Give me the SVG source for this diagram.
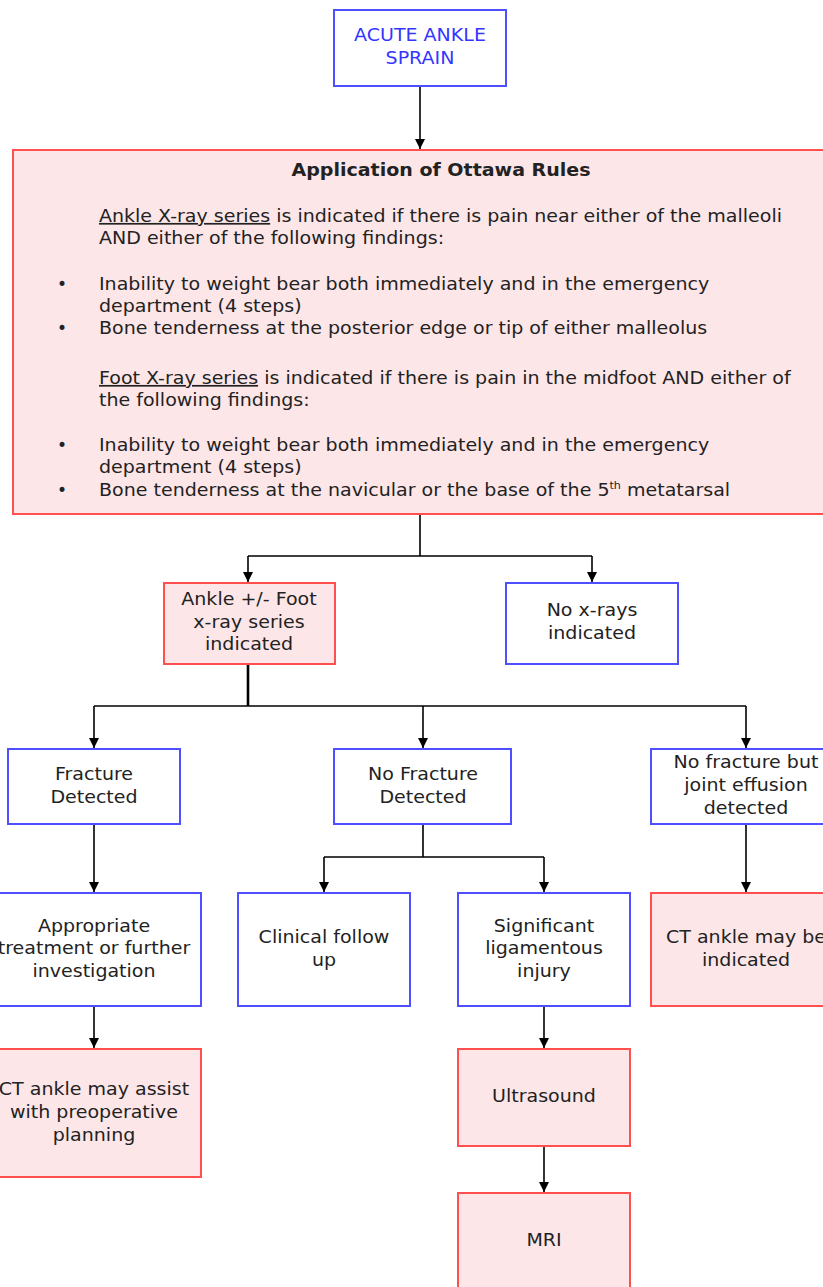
<svg xmlns="http://www.w3.org/2000/svg" width="823" height="1287" viewBox="0 0 823 1287">
<defs>
<marker id="ah" markerWidth="12" markerHeight="12" refX="10" refY="5" orient="auto" markerUnits="userSpaceOnUse">
<path d="M0,0 L10,5 L0,10 z" fill="#000"/>
</marker>
<style>
.blue{fill:#fff;stroke:#4f4fff;stroke-width:2}
.red{fill:#fde6e8;stroke:#ff4f4f;stroke-width:2}
text{font-family:"DejaVu Sans","Verdana",sans-serif;font-size:17px;fill:#222}
.c{text-anchor:middle}
.bt{fill:#3535ff}
.b{font-weight:bold}
.con{stroke:#000;stroke-width:1.6;fill:none}
.arr{stroke:#000;stroke-width:1.6;fill:none;marker-end:url(#ah)}
</style>
</defs>
<rect width="823" height="1287" fill="#fff"/>

<g id="connectors">
<path class="arr" d="M420,86 V149"/>
<path class="con" d="M420,514 V556 M248,556 H592"/>
<path class="arr" d="M248,556 V582"/>
<path class="arr" d="M592,556 V582"/>
<path class="con" d="M248,664 V706" style="stroke-width:2.6"/>
<path class="con" d="M94,706 H746"/>
<path class="arr" d="M94,706 V748"/>
<path class="arr" d="M423,706 V748"/>
<path class="arr" d="M746,706 V748"/>
<path class="arr" d="M94,824 V892"/>
<path class="con" d="M423,824 V857 M324,857 H544"/>
<path class="arr" d="M324,857 V892"/>
<path class="arr" d="M544,857 V892"/>
<path class="arr" d="M746,824 V892"/>
<path class="arr" d="M94,1006 V1048"/>
<path class="arr" d="M544,1006 V1048"/>
<path class="arr" d="M544,1146 V1192"/>
</g>

<g id="acute">
<rect class="blue" x="334" y="10" width="172" height="76"/>
<g transform="matrix(1.12 0 0 1 -50.4 0)">
<text class="c bt" x="420" y="41">ACUTE ANKLE</text>
<text class="c bt" x="420" y="64">SPRAIN</text>
</g>
</g>

<g id="ottawa">
<rect class="red" x="13" y="150" width="820" height="364"/>
<g transform="matrix(1.12 0 0 1 -52.92 0)">
<text class="c b" x="441" y="176">Application of Ottawa Rules</text>
</g>
<g transform="matrix(1.12 0 0 1 -11.88 0)">
<text x="99" y="222"><tspan text-decoration="underline">Ankle X-ray series</tspan> is indicated if there is pain near either of the malleoli</text>
<text x="99" y="244">AND either of the following findings:</text>
<text x="99" y="290">Inability to weight bear both immediately and in the emergency</text>
<text x="99" y="312">department (4 steps)</text>
<text x="99" y="334">Bone tenderness at the posterior edge or tip of either malleolus</text>
<text x="99" y="384"><tspan text-decoration="underline">Foot X-ray series</tspan> is indicated if there is pain in the midfoot AND either of</text>
<text x="99" y="406">the following findings:</text>
<text x="99" y="451">Inability to weight bear both immediately and in the emergency</text>
<text x="99" y="473">department (4 steps)</text>
<text x="99" y="496">Bone tenderness at the navicular or the base of the 5<tspan font-size="10" dy="-7">th</tspan><tspan dy="7"> metatarsal</tspan></text>
</g>
<text x="57" y="290">•</text>
<text x="57" y="334">•</text>
<text x="57" y="451">•</text>
<text x="57" y="496">•</text>
</g>

<g id="xray">
<rect class="red" x="164" y="583" width="171" height="81"/>
<g transform="matrix(1.12 0 0 1 -29.88 0)">
<text class="c" x="249" y="605">Ankle +/- Foot</text>
<text class="c" x="249" y="628">x-ray series</text>
<text class="c" x="249" y="650">indicated</text>
</g>
</g>

<g id="noxray">
<rect class="blue" x="506" y="583" width="172" height="81"/>
<g transform="matrix(1.12 0 0 1 -71.04 0)">
<text class="c" x="592" y="616">No x-rays</text>
<text class="c" x="592" y="639">indicated</text>
</g>
</g>

<g id="fracture">
<rect class="blue" x="8" y="749" width="172" height="75"/>
<g transform="matrix(1.12 0 0 1 -11.28 0)">
<text class="c" x="94" y="780">Fracture</text>
<text class="c" x="94" y="803">Detected</text>
</g>
</g>

<g id="nofracture">
<rect class="blue" x="334" y="749" width="177" height="75"/>
<g transform="matrix(1.12 0 0 1 -50.76 0)">
<text class="c" x="423" y="780">No Fracture</text>
<text class="c" x="423" y="803">Detected</text>
</g>
</g>

<g id="effusion">
<rect class="blue" x="651" y="749" width="180" height="75"/>
<g transform="matrix(1.12 0 0 1 -89.52 0)">
<text class="c" x="746" y="768">No fracture but</text>
<text class="c" x="746" y="791">joint effusion</text>
<text class="c" x="746" y="814">detected</text>
</g>
</g>

<g id="treatment">
<rect class="blue" x="-5" y="893" width="206" height="113"/>
<g transform="matrix(1.12 0 0 1 -11.28 0)">
<text class="c" x="94" y="932">Appropriate</text>
<text class="c" x="94" y="954">treatment or further</text>
<text class="c" x="94" y="977">investigation</text>
</g>
</g>

<g id="clinical">
<rect class="blue" x="238" y="893" width="172" height="113"/>
<g transform="matrix(1.12 0 0 1 -38.88 0)">
<text class="c" x="324" y="943">Clinical follow</text>
<text class="c" x="324" y="966">up</text>
</g>
</g>

<g id="ligament">
<rect class="blue" x="458" y="893" width="172" height="113"/>
<g transform="matrix(1.12 0 0 1 -65.28 0)">
<text class="c" x="544" y="932">Significant</text>
<text class="c" x="544" y="954">ligamentous</text>
<text class="c" x="544" y="977">injury</text>
</g>
</g>

<g id="ctindicated">
<rect class="red" x="651" y="893" width="180" height="113"/>
<g transform="matrix(1.12 0 0 1 -89.52 0)">
<text class="c" x="746" y="943">CT ankle may be</text>
<text class="c" x="746" y="966">indicated</text>
</g>
</g>

<g id="ctassist">
<rect class="red" x="-5" y="1049" width="206" height="128"/>
<g transform="matrix(1.12 0 0 1 -11.28 0)">
<text class="c" x="94" y="1095">CT ankle may assist</text>
<text class="c" x="94" y="1118">with preoperative</text>
<text class="c" x="94" y="1141">planning</text>
</g>
</g>

<g id="ultrasound">
<rect class="red" x="458" y="1049" width="172" height="97"/>
<g transform="matrix(1.12 0 0 1 -65.28 0)">
<text class="c" x="544" y="1102">Ultrasound</text>
</g>
</g>

<g id="mri">
<rect class="red" x="458" y="1193" width="172" height="100"/>
<g transform="matrix(1.12 0 0 1 -65.28 0)">
<text class="c" x="544" y="1246">MRI</text>
</g>
</g>
</svg>
